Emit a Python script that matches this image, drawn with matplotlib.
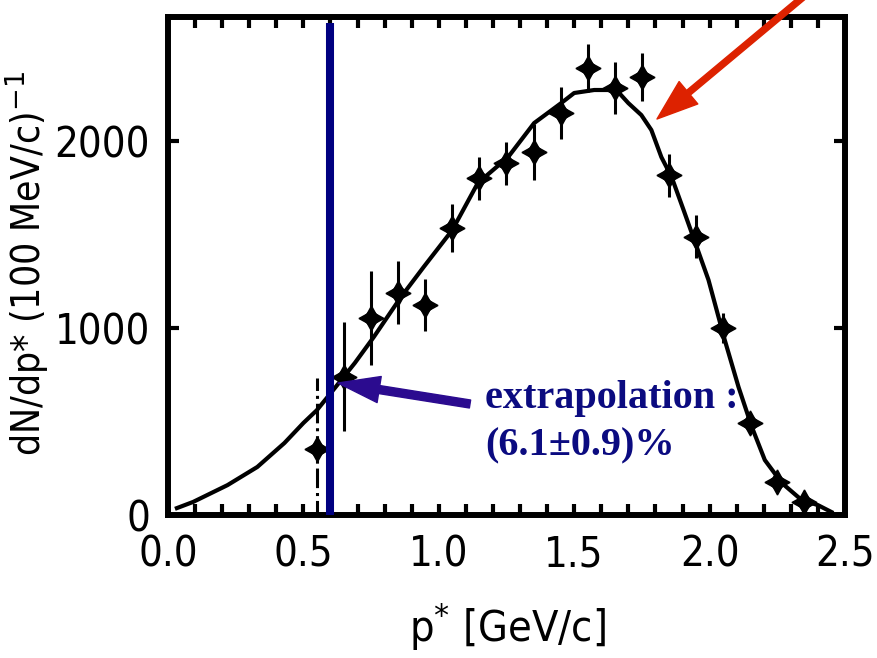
import matplotlib.pyplot as plt
from matplotlib.patches import FancyArrowPatch
from matplotlib.ticker import MultipleLocator

# measured spectrum (bin centres in GeV/c, counts per 100 MeV/c)
p_star = [0.55, 0.65, 0.75, 0.85, 0.95, 1.05, 1.15, 1.25, 1.35, 1.45,
          1.55, 1.65, 1.75, 1.85, 1.95, 2.05, 2.15, 2.25, 2.35]
counts = [353, 740, 1053, 1190, 1123, 1535, 1802, 1882, 1941, 2150,
          2390, 2283, 2342, 1818, 1487, 1000, 492, 176, 70]
errors = [380, 290, 250, 170, 140, 130, 115, 115, 150, 140,
          130, 140, 130, 115, 115, 80, 60, 40, 30]
dashed = [0, 10]  # points whose error bar is drawn dash-dotted

# fitted curve
fit_p = [0.033, 0.093, 0.22, 0.33, 0.43, 0.50, 0.55, 0.61, 0.69, 0.76,
         0.86, 0.944, 1.05, 1.144, 1.256, 1.352, 1.452, 1.50, 1.574, 1.656,
         1.70, 1.748, 1.785, 1.822, 1.86, 1.904, 1.996, 2.056, 2.107, 2.156,
         2.204, 2.267, 2.34, 2.40, 2.45]
fit_n = [37, 70, 160, 257, 385, 492, 561, 668, 813, 952,
         1165, 1326, 1524, 1775, 1914, 2096, 2203, 2257, 2273, 2273,
         2203, 2139, 2059, 1914, 1807, 1631, 1257, 936, 684, 471,
         294, 171, 80, 53, 16]

cut_p = 0.6
cut_top = 2630

sans = ['DejaVu Sans']
serif = ['Liberation Serif', 'DejaVu Serif']

fig = plt.figure(figsize=(8.78, 6.58), dpi=100)
ax = fig.add_axes([0.1913, 0.2173, 0.7711, 0.7576])

ax.plot(fit_p, fit_n, color='black', lw=3, zorder=3)

for i in range(len(p_star)):
    eb = ax.errorbar(p_star[i], counts[i], yerr=errors[i], fmt='none',
                     ecolor='black', elinewidth=2.2, capsize=0, zorder=4)
    if i in dashed:
        eb[2][0].set_linestyle('-.')
ax.plot(p_star, counts, linestyle='none', marker=(4, 1, 0), ms=18,
        color='black', zorder=5)
ax.plot(p_star, counts, linestyle='none', marker='D', ms=9,
        color='black', zorder=5)

ax.vlines(cut_p, 0, cut_top, color='#000080', lw=5.8, zorder=6)

ax.set_xlim(0, 2.5)
ax.set_ylim(0, 2666)
ax.set_xticks([0.0, 0.5, 1.0, 1.5, 2.0, 2.5])
ax.set_xticklabels(['0.0', '0.5', '1.0', '1.5', '2.0', '2.5'])
ax.xaxis.set_minor_locator(MultipleLocator(0.1))
ax.set_yticks([0, 1000, 2000])
ax.tick_params(which='both', direction='in', top=True, right=True,
               width=3, length=8)
ax.tick_params(axis='x', which='major', pad=13)
ax.tick_params(axis='y', which='major', pad=13)
for lab in ax.get_xticklabels() + ax.get_yticklabels():
    lab.set_family(sans)
    lab.set_stretch('condensed')
    lab.set_fontsize(30)
for s in ax.spines.values():
    s.set_linewidth(4.3)

fig.text(0.578, 1 - 642 / 658, 'p$^{*}$ [GeV/c]', family=sans,
         stretch='condensed', size=31, ha='center', va='baseline')
fig.text(0.030, 0.600, 'dN/dp* (100 MeV/c)$^{-1}$', family=sans,
         stretch='condensed', size=28, rotation=90, ha='center', va='center')

fig.text(485 / 878, 1 - 408 / 658, 'extrapolation :', family=serif,
         weight='bold', size=29, color='#0b0b80', va='baseline')
fig.text(485 / 878, 1 - 455 / 658, '(6.1\u00b10.9)%', family=serif,
         weight='bold', size=29, color='#0b0b80', va='baseline')

# blue arrow to the extrapolated region, red arrow to the fit
blue = FancyArrowPatch((470 / 878, 1 - 404 / 658), (338 / 878, 1 - 383 / 658),
                       transform=fig.transFigure,
                       arrowstyle='simple,head_length=30,head_width=19,tail_width=5.8',
                       mutation_scale=1, color='#2b0b8f', shrinkA=0, shrinkB=0,
                       zorder=7)
red = FancyArrowPatch((820 / 878, 1 + 17 / 658), (657 / 878, 1 - 119 / 658),
                      transform=fig.transFigure,
                      arrowstyle='simple,head_length=29.5,head_width=21,tail_width=4.3',
                      mutation_scale=1, color='#dd2200', shrinkA=0, shrinkB=0,
                      zorder=7)
fig.patches.append(blue)
fig.patches.append(red)

fig.savefig('out.png', dpi=100)
